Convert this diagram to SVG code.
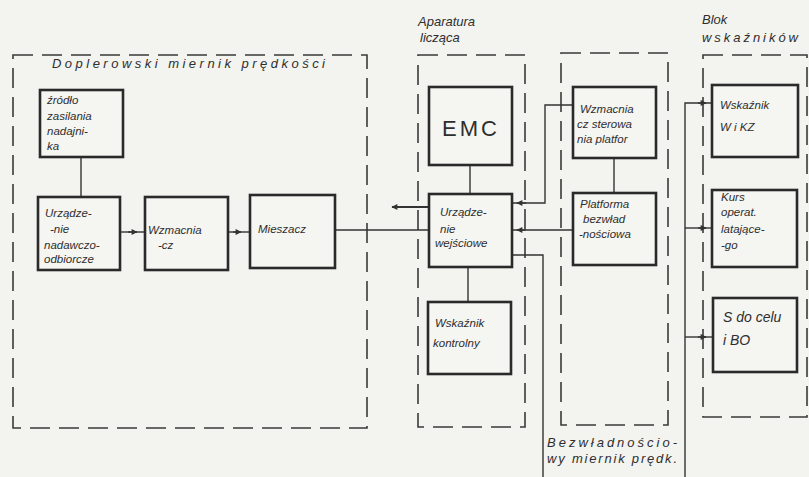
<svg xmlns="http://www.w3.org/2000/svg" width="809" height="477" viewBox="0 0 809 477">
<defs>
<style>
.bg{fill:#f3f3ef}
.grp{fill:none;stroke:#3a3a3a;stroke-width:1.6;stroke-dasharray:20 9}
.box{fill:#f5f5f2;stroke:#2a2a2a;stroke-width:2.6}
.ln{fill:none;stroke:#333;stroke-width:1.4}
text{font-family:"Liberation Sans",Arial,sans-serif;font-style:italic;fill:#2e2e2e;font-size:11.5px}
.lbl{font-size:13px}
.big{font-size:22px;font-style:normal;letter-spacing:3px}
</style>
<marker id="ah" viewBox="0 0 10 10" refX="9" refY="5" markerWidth="8" markerHeight="6" orient="auto" markerUnits="userSpaceOnUse">
<path d="M0,0 L10,5 L0,10 Z" fill="#333"/>
</marker>
</defs>
<rect class="bg" x="0" y="0" width="809" height="477"/>

<g id="group-doppler">
<rect class="grp" x="13" y="55" width="354" height="373"/>
<text class="lbl" x="52" y="68" textLength="273" lengthAdjust="spacing">Doplerowski miernik prędkości</text>
</g>
<g id="group-aparatura">
<rect class="grp" x="418" y="55" width="107" height="372"/>
<text class="lbl" x="418" y="26">Aparatura</text>
<text class="lbl" x="420" y="42">licząca</text>
</g>
<g id="group-bezwladnosciowy">
<rect class="grp" x="561" y="53" width="107" height="372"/>
<text class="lbl" x="547" y="447" textLength="130" lengthAdjust="spacing">Bezwładnościo-</text>
<text class="lbl" x="547" y="463" textLength="130" lengthAdjust="spacing">wy miernik prędk.</text>
</g>
<g id="group-blok">
<rect class="grp" x="703" y="55" width="104" height="362"/>
<text class="lbl" x="702" y="24">Blok</text>
<text class="lbl" x="702" y="42" textLength="96" lengthAdjust="spacing">wskaźników</text>
</g>

<g id="connectors">
<path class="ln" d="M81,157 V197"/>
<path class="ln" d="M120,232 H145"/>
<path class="ln" d="M128,232 H137" marker-end="url(#ah)"/>
<path class="ln" d="M228,232 H250"/>
<path class="ln" d="M233,232 H241" marker-end="url(#ah)"/>
<path class="ln" d="M335,230 H429"/>
<path class="ln" d="M470,165 V194"/>
<path class="ln" d="M468,267 V302"/>
<path class="ln" d="M429,207 H392" marker-end="url(#ah)" style="stroke-width:2.2"/>
<path class="ln" d="M573,105 H545 V203 H512"/>
<path class="ln" d="M526,203 H517" marker-end="url(#ah)"/>
<path class="ln" d="M573,230 H512"/>
<path class="ln" d="M526,230 H517" marker-end="url(#ah)"/>
<path class="ln" d="M512,255 H543 V477"/>
<path class="ln" d="M614,158 V193"/>
<path class="ln" d="M685,477 V103 H712"/>
<path class="ln" d="M698,103 H706" marker-end="url(#ah)"/>
<path class="ln" d="M685,228 H712"/>
<path class="ln" d="M698,228 H706" marker-end="url(#ah)"/>
<path class="ln" d="M685,337 H713"/>
<path class="ln" d="M698,337 H706" marker-end="url(#ah)"/>
</g>

<g id="zrodlo">
<rect class="box" x="40" y="90" width="83" height="67"/>
<text x="47" y="104">źródło</text>
<text x="47" y="120">zasilania</text>
<text x="47" y="135">nadajni-</text>
<text x="47" y="150">ka</text>
</g>
<g id="urzadzenie-nadawczo">
<rect class="box" x="38" y="197" width="82" height="73"/>
<text x="45" y="217">Urządze-</text>
<text x="50" y="233">-nie</text>
<text x="44" y="249">nadawczo-</text>
<text x="44" y="263">odbiorcze</text>
</g>
<g id="wzmacniacz-cz">
<rect class="box" x="145" y="197" width="83" height="73"/>
<text x="148" y="234">Wzmacnia</text>
<text x="158" y="249">-cz</text>
</g>
<g id="mieszacz">
<rect class="box" x="250" y="195" width="85" height="73"/>
<text x="258" y="233">Mieszacz</text>
</g>
<g id="emc">
<rect class="box" x="429" y="87" width="83" height="78"/>
<text class="big" x="471" y="136" text-anchor="middle">EMC</text>
</g>
<g id="urzadzenie-wejsciowe">
<rect class="box" x="429" y="194" width="83" height="73"/>
<text x="440" y="216">Urządze-</text>
<text x="440" y="233">nie</text>
<text x="435" y="247">wejściowe</text>
</g>
<g id="wskaznik-kontrolny">
<rect class="box" x="428" y="302" width="83" height="72"/>
<text x="435" y="327">Wskaźnik</text>
<text x="433" y="347">kontrolny</text>
</g>
<g id="wzmacniacz-sterowania">
<rect class="box" x="573" y="87" width="83" height="71"/>
<text x="580" y="113">Wzmacnia</text>
<text x="577" y="128">cz sterowa</text>
<text x="577" y="143">nia platfor</text>
</g>
<g id="platforma">
<rect class="box" x="573" y="193" width="83" height="72"/>
<text x="580" y="208">Platforma</text>
<text x="583" y="223">bezwład</text>
<text x="579" y="238">-nościowa</text>
</g>
<g id="wskaznik-wkz">
<rect class="box" x="712" y="85" width="86" height="72"/>
<text x="720" y="109">Wskaźnik</text>
<text x="720" y="131">W i KZ</text>
</g>
<g id="kurs">
<rect class="box" x="712" y="190" width="85" height="77"/>
<text x="721" y="201">Kurs</text>
<text x="721" y="216">operat.</text>
<text x="721" y="233">latające-</text>
<text x="721" y="249">-go</text>
</g>
<g id="s-do-celu">
<rect class="box" x="713" y="298" width="84" height="74"/>
<text x="723" y="322" style="font-size:14px">S do celu</text>
<text x="723" y="345" style="font-size:14px">i BO</text>
</g>
</svg>
